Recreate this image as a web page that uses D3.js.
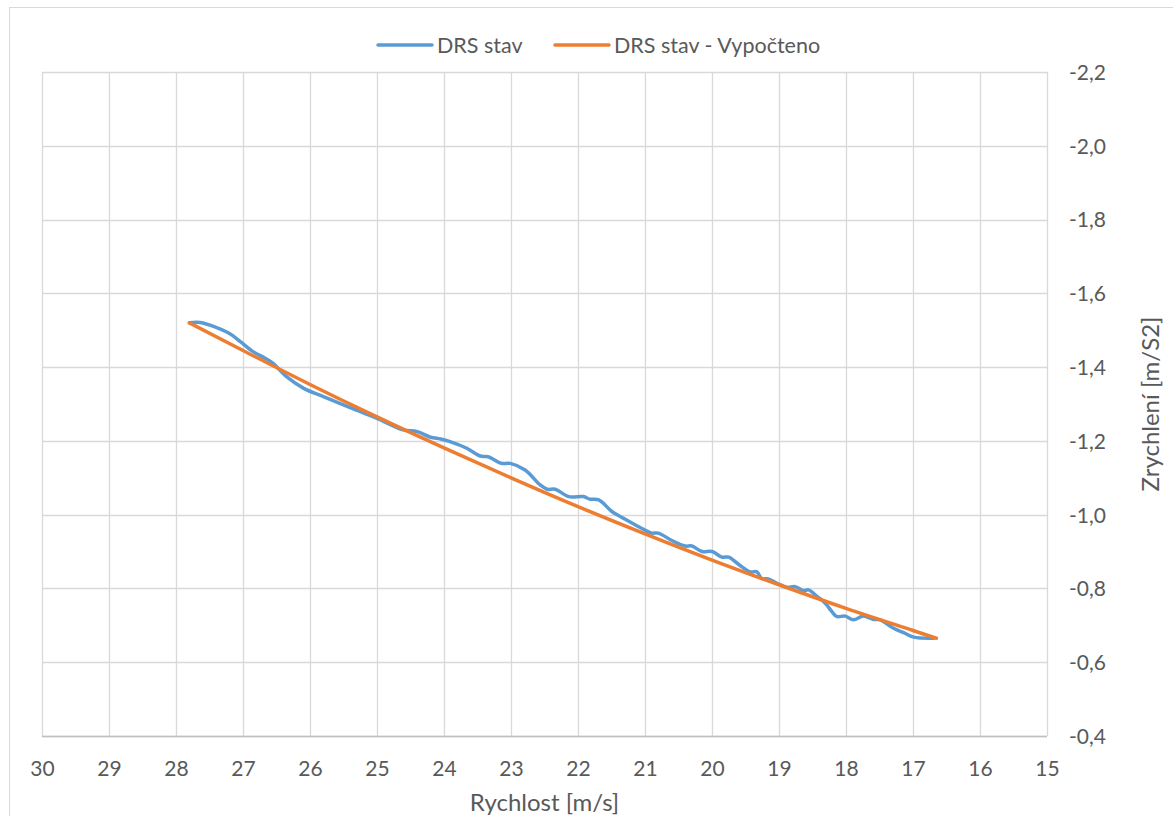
<!DOCTYPE html>
<html>
<head>
<meta charset="utf-8">
<script src="https://cdn.jsdelivr.net/npm/d3@7"></script>
<style>
  body { margin: 0; background: #fff; }
  text { font-family: Lato, "Open Sans", sans-serif; fill: #595959; }
</style>
</head>
<body>
<div id="chart"></div>
<script>
// speed [m/s] and acceleration [m/s2]
const measuredSpeed = [27.80, 27.64, 27.22, 27.04, 26.85, 26.67, 26.55, 26.35, 26.10, 25.80,
    25.40, 25.00, 24.61, 24.40, 24.20, 24.05, 23.91, 23.66, 23.46, 23.34, 23.14, 23.01, 22.79,
    22.56, 22.46, 22.34, 22.14, 21.92, 21.82, 21.69, 21.49, 21.32, 21.00, 20.90, 20.80, 20.60,
    20.40, 20.30, 20.15, 20.00, 19.85, 19.75, 19.60, 19.43, 19.33, 19.26, 19.16, 19.03, 18.88,
    18.76, 18.63, 18.56, 18.43, 18.31, 18.21, 18.14, 18.01, 17.89, 17.74, 17.59, 17.49, 17.29,
    17.14, 16.99, 16.69];
const measuredAccel = [-1.520, -1.521, -1.493, -1.469, -1.442, -1.424, -1.410, -1.374, -1.343, -1.320,
    -1.290, -1.261, -1.230, -1.225, -1.210, -1.205, -1.198, -1.180, -1.159, -1.157, -1.139, -1.139, -1.121,
    -1.080, -1.069, -1.069, -1.049, -1.049, -1.042, -1.040, -1.008, -0.990, -0.958, -0.950, -0.950, -0.930,
    -0.915, -0.915, -0.900, -0.900, -0.885, -0.885, -0.865, -0.845, -0.845, -0.827, -0.826, -0.814, -0.803,
    -0.805, -0.794, -0.796, -0.778, -0.760, -0.737, -0.724, -0.725, -0.715, -0.725, -0.716, -0.715, -0.692,
    -0.680, -0.668, -0.665];

// computed curve (slightly bent, steeper at high speed)
const calcSpeed = [27.80, 27.00, 26.00, 25.00, 24.00, 23.00, 22.00, 21.00, 20.00, 19.00, 18.00, 17.00, 16.65];
const calcAccel = [-1.520, -1.445, -1.353, -1.265, -1.181, -1.100, -1.022, -0.948, -0.877, -0.810, -0.746, -0.686, -0.665];

const xTicks = [30, 29, 28, 27, 26, 25, 24, 23, 22, 21, 20, 19, 18, 17, 16, 15];
const yTicks = [-2.2, -2.0, -1.8, -1.6, -1.4, -1.2, -1.0, -0.8, -0.6, -0.4];

const seriesNames = ["DRS stav", "DRS stav - Vypočteno"];
const seriesColors = ["#5b9bd5", "#ed7d31"];

function init() {
    let w = 1173;
    let h = 816;

    let svg = d3.select("#chart")
        .append("svg")
        .attr("width", w)
        .attr("height", h);

    // chart frame (runs past the right/bottom edge like the screenshot)
    svg.append("rect")
        .attr("x", 9.5)
        .attr("y", 7.5)
        .attr("width", 1200)
        .attr("height", 900)
        .attr("fill", "none")
        .attr("stroke", "#d9d9d9")
        .attr("stroke-width", 1);

    let x = d3.scaleLinear().domain([30, 15]).range([42, 1047]);
    let y = d3.scaleLinear().domain([-2.2, -0.4]).range([72, 736]);

    // grid
    svg.append("g")
        .selectAll("line.h")
        .data(yTicks)
        .enter()
        .append("line")
        .attr("x1", x(30))
        .attr("x2", x(15))
        .attr("y1", d => Math.round(y(d)) + 0.5)
        .attr("y2", d => Math.round(y(d)) + 0.5)
        .attr("stroke", "#d9d9d9")
        .attr("stroke-width", 1.3);

    svg.append("g")
        .selectAll("line.v")
        .data(xTicks)
        .enter()
        .append("line")
        .attr("y1", y(-2.2))
        .attr("y2", y(-0.4))
        .attr("x1", d => Math.round(x(d)) + 0.5)
        .attr("x2", d => Math.round(x(d)) + 0.5)
        .attr("stroke", "#d9d9d9")
        .attr("stroke-width", 1.3);

    // bottom axis line
    svg.append("line")
        .attr("x1", x(30))
        .attr("x2", x(15))
        .attr("y1", Math.round(y(-0.4)) + 0.5)
        .attr("y2", Math.round(y(-0.4)) + 0.5)
        .attr("stroke", "#bfbfbf")
        .attr("stroke-width", 1.3);

    // x tick labels
    let xAxis = d3.axisBottom(x)
        .tickValues(xTicks)
        .tickSize(0)
        .tickPadding(0)
        .tickFormat(d3.format("d"));

    let gx = svg.append("g")
        .attr("transform", "translate(0,776)")
        .call(xAxis);
    gx.select(".domain").remove();
    gx.selectAll("text")
        .attr("dy", 0)
        .style("font-size", "21px")
        .style("font-family", "Lato, sans-serif")
        .attr("fill", "#595959");

    // y tick labels on the right
    let yAxis = d3.axisRight(y)
        .tickValues(yTicks)
        .tickSize(0)
        .tickPadding(0)
        .tickFormat(d => d3.format(".1f")(d).replace("−", "-").replace(".", ","));

    let gy = svg.append("g")
        .attr("transform", "translate(1069,0)")
        .call(yAxis);
    gy.select(".domain").remove();
    gy.selectAll("text")
        .attr("dy", "0.35em")
        .style("font-size", "21px")
        .style("font-family", "Lato, sans-serif")
        .attr("fill", "#595959");

    // axis titles
    svg.append("text")
        .attr("x", (x(30) + x(15)) / 2)
        .attr("y", 811)
        .attr("text-anchor", "middle")
        .style("font-size", "24px")
        .text("Rychlost [m/s]");

    svg.append("text")
        .attr("transform", "translate(1159," + ((y(-2.2) + y(-0.4)) / 2) + ") rotate(-90)")
        .attr("text-anchor", "middle")
        .style("font-size", "24px")
        .text("Zrychlení [m/S2]");

    // lines
    let line = d3.line()
        .x(d => x(d[0]))
        .y(d => y(d[1]))
        .curve(d3.curveCatmullRom.alpha(0.5));

    let measured = measuredSpeed.map((v, i) => [v, measuredAccel[i]]);
    let calculated = calcSpeed.map((v, i) => [v, calcAccel[i]]);

    svg.append("path")
        .datum(measured)
        .attr("d", line)
        .attr("fill", "none")
        .attr("stroke", seriesColors[0])
        .attr("stroke-width", 3.5)
        .attr("stroke-linejoin", "round")
        .attr("stroke-linecap", "round");

    svg.append("path")
        .datum(calculated)
        .attr("d", line)
        .attr("fill", "none")
        .attr("stroke", seriesColors[1])
        .attr("stroke-width", 3.5)
        .attr("stroke-linecap", "round");

    // legend
    let legendX = [378, 555];
    let legend = svg.append("g");
    seriesNames.forEach(function (name, i) {
        legend.append("line")
            .attr("x1", legendX[i])
            .attr("x2", legendX[i] + 54)
            .attr("y1", 45)
            .attr("y2", 45)
            .attr("stroke", seriesColors[i])
            .attr("stroke-width", 3.5)
            .attr("stroke-linecap", "round");
        legend.append("text")
            .attr("x", legendX[i] + 59)
            .attr("y", 45)
            .attr("dy", "0.35em")
            .style("font-size", "21.5px")
            .text(name);
    });
}

window.addEventListener('load', init);
</script>
</body>
</html>
